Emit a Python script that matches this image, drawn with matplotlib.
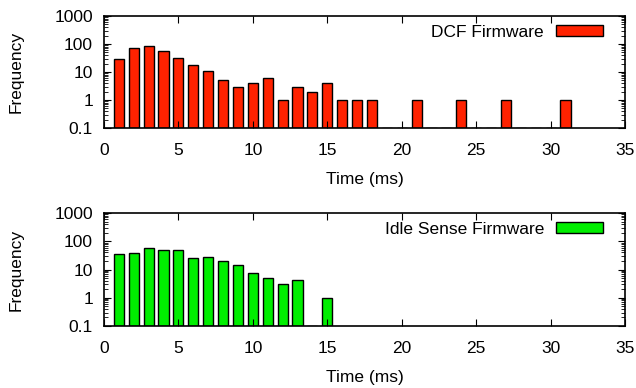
import matplotlib
matplotlib.use("Agg")
import matplotlib.pyplot as plt
from matplotlib.ticker import LogLocator, NullFormatter, FixedLocator

plt.rcParams['font.family'] = ['Liberation Sans', 'DejaVu Sans']

# time bins (ms) and frequencies (0 = empty bin)
dcf_time = list(range(1, 32))
dcf_freq = [28, 74, 85, 56, 32, 18, 11, 5, 3, 4, 6, 1, 3, 2, 4, 1, 1, 1,
            0, 0, 1, 0, 0, 1, 0, 0, 1, 0, 0, 0, 1]
idle_time = list(range(1, 16))
idle_freq = [36, 38, 57, 49, 49, 25, 27, 20, 15, 7.4, 5.2, 3, 4.2, 0, 1]

y_ticks = [0.1, 1, 10, 100, 1000]
y_labels = ["0.1", "1", "10", "100", "1000"]
x_ticks = [0, 5, 10, 15, 20, 25, 30, 35]

fig = plt.figure(figsize=(6.36, 3.88), dpi=100)
W, H = 636, 388
ax1 = fig.add_axes([104 / W, 1 - 128 / H, 521 / W, 112 / H])
ax2 = fig.add_axes([104 / W, 1 - 326 / H, 521 / W, 113 / H])

panels = [
    (ax1, dcf_time, dcf_freq, '#ff2200', 'DCF Firmware'),
    (ax2, idle_time, idle_freq, '#00ee00', 'Idle Sense Firmware'),
]

for ax, t, f, color, label in panels:
    ymin = y_ticks[0]
    heights = [max(v - ymin, 0) for v in f]
    ax.bar(t, heights, bottom=ymin, width=0.68, color=color,
           edgecolor='black', linewidth=1.0, label=label)
    ax.set_yscale('log')
    ax.set_ylim(y_ticks[0], y_ticks[-1])
    ax.set_xlim(x_ticks[0], x_ticks[-1])
    ax.yaxis.set_major_locator(FixedLocator(y_ticks))
    ax.set_yticklabels(y_labels)
    ax.yaxis.set_minor_locator(LogLocator(base=10, subs=range(2, 10)))
    ax.yaxis.set_minor_formatter(NullFormatter())
    ax.set_xticks(x_ticks)
    ax.tick_params(which='both', direction='in', top=True, right=True,
                   labelsize=12.5)
    ax.tick_params(axis='x', pad=11)
    ax.tick_params(axis='y', pad=8)
    ax.tick_params(which='major', length=5)
    ax.tick_params(which='minor', length=3)
    ax.set_xlabel('Time (ms)', fontsize=12.5, labelpad=10)
    ax.set_ylabel('Frequency', fontsize=12.5, labelpad=22)
    for s in ax.spines.values():
        s.set_linewidth(1.2)
    ax.legend(loc='upper right', bbox_to_anchor=(0.958, 0.92), frameon=False,
              fontsize=12.5, markerfirst=False, borderpad=0,
              handlelength=2.7, handleheight=0.6, handletextpad=0.7,
              borderaxespad=0)

fig.savefig('out.png', dpi=100)
